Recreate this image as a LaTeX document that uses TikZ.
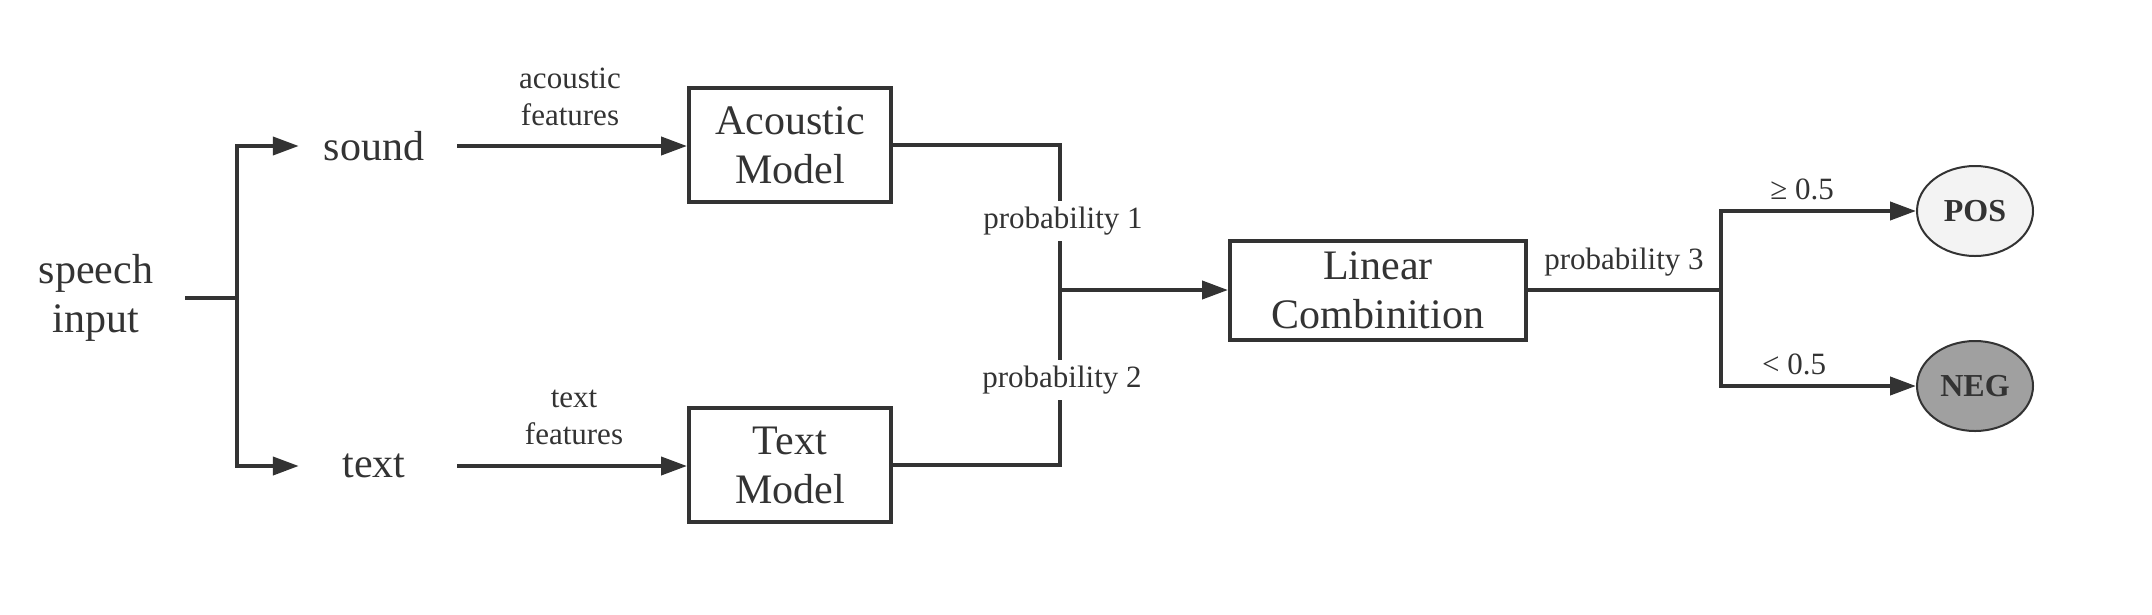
\documentclass[tikz,border=0pt]{standalone}
\usepackage{fontspec}
\setmainfont{Liberation Serif}
\usetikzlibrary{arrows.meta,shapes.geometric}
\definecolor{ink}{HTML}{333333}
\definecolor{posfill}{HTML}{F3F3F3}
\definecolor{negfill}{HTML}{A0A0A0}
\tikzset{
  bigtxt/.style={font=\fontsize{42}{49}\selectfont, text=ink, align=center, inner sep=0pt},
  smalltxt/.style={font=\fontsize{31}{37}\selectfont, text=ink, align=center, inner sep=0pt},
  modelbox/.style={draw=ink, line width=4pt, rectangle, font=\fontsize{42}{49}\selectfont, text=ink, align=center, inner sep=0pt},
  wire/.style={draw=ink, line width=4pt},
  arrowwire/.style={wire, -{Triangle[length=26pt,width=18pt]}},
  classnode/.style={draw=ink, line width=2pt, ellipse, minimum width=116pt, minimum height=90pt, inner sep=0pt, font=\fontsize{32}{38}\selectfont\bfseries, text=ink},
  onwire/.style={smalltxt, fill=white, inner sep=6pt}
}
\begin{document}
\begin{tikzpicture}[x=1pt,y=-1pt]
\useasboundingbox (0,0) rectangle (2152,614);
% nodes
\node[bigtxt, minimum width=178pt] (speech) at (96,298) {speech\\input};
\coordinate (j1) at (237,298);
\node[bigtxt, minimum width=150pt] (sound) at (374,146) {sound};
\node[bigtxt, minimum width=150pt] (text) at (374,466) {text};
\node[smalltxt] (af) at (570,97) {acoustic\\features};
\node[smalltxt] (tf) at (574,417) {text\\features};
\node[modelbox, minimum width=202pt, minimum height=114pt] (am) at (790,145) {Acoustic\\Model};
\node[modelbox, minimum width=202pt, minimum height=114pt] (tm) at (790,465) {Text\\Model};
\coordinate (j2) at (1060,290);
\node[modelbox, minimum width=296pt, minimum height=99pt] (lc) at (1378,290) {Linear\\Combinition};
\coordinate (j3) at (1721,290);
\node[classnode, fill=posfill] (pos) at (1975,211) {POS};
\node[classnode, fill=negfill] (neg) at (1975,386) {NEG};
% connectors
\draw[wire] (speech.east) -- (j1);
\draw[arrowwire] (j1) |- (sound.west);
\draw[arrowwire] (j1) |- (text.west);
\draw[arrowwire, shorten <=8pt] (sound.east) -- (am.west |- sound.east);
\draw[arrowwire, shorten <=8pt] (text.east) -- (tm.west |- text.east);
\draw[wire] (am.east) -| (j2);
\draw[wire] (tm.east) -| (j2);
\draw[arrowwire] (j2) -- (lc.west);
\draw[wire] (lc.east) -- (j3);
\draw[arrowwire] (j3) |- (pos.west);
\draw[arrowwire] (j3) |- (neg.west);
% labels
\node[onwire] (p1) at (1063,221) {probability 1};
\node[onwire] (p2) at (1062,380) {probability 2};
\node[smalltxt] (p3) at (1624,262) {probability 3};
\node[smalltxt] (ge) at (1802,189) {≥ 0.5};
\node[smalltxt] (lt) at (1794,364) {< 0.5};
\end{tikzpicture}
\end{document}
